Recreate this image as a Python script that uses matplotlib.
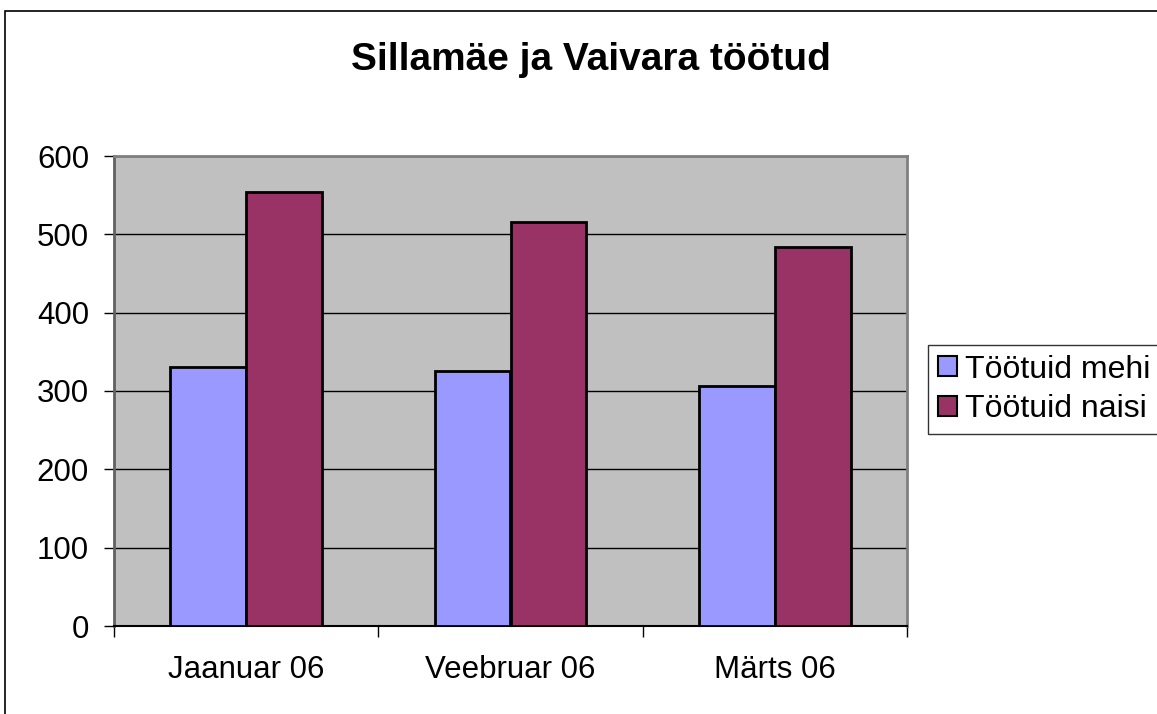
import matplotlib
matplotlib.use("Agg")
import matplotlib.pyplot as plt
from matplotlib.patches import Rectangle, Patch
import numpy as np

title = "Sillamäe ja Vaivara töötud"
categories = ["Jaanuar 06", "Veebruar 06", "Märts 06"]
series_names = ["Töötuid mehi", "Töötuid naisi"]
mehi = [331, 325, 306]
naisi = [554, 516, 484]
colors = ["#9999FF", "#993366"]
yticks = [0, 100, 200, 300, 400, 500, 600]

plt.rcParams['font.family'] = ['Liberation Sans', 'DejaVu Sans']

W, H = 1157, 714
fig = plt.figure(figsize=(W / 100, H / 100), dpi=100)
fig.patch.set_facecolor("white")
ax = fig.add_axes([114 / W, 1 - 626 / H, (907 - 114) / W, (626 - 156) / H])
ax.set_facecolor("#C0C0C0")

x = np.arange(len(categories))
bw = 0.2875
ax.bar(x - bw / 2, mehi, bw, color=colors[0], edgecolor="black", linewidth=2, zorder=3)
ax.bar(x + bw / 2, naisi, bw, color=colors[1], edgecolor="black", linewidth=2, zorder=3)

ax.set_xlim(-0.5, len(categories) - 0.5)
ax.set_ylim(0, 600)
ax.set_yticks(yticks)
ax.set_yticklabels([str(v) for v in yticks], fontsize=22.5)
ax.yaxis.grid(True, color="black", linewidth=1, zorder=1)
ax.set_axisbelow(True)

ax.set_xticks(x)
ax.set_xticklabels(categories, fontsize=22.5)
ax.set_xticks(np.arange(-0.5, len(categories), 1.0), minor=True)
ax.tick_params(axis="x", which="major", length=0, pad=21)
ax.tick_params(axis="x", which="minor", length=8, width=1, color="black")
ax.tick_params(axis="y", length=7, width=1, color="black", pad=11)

for s in ["top", "right"]:
    ax.spines[s].set_color("#808080")
    ax.spines[s].set_linewidth(2)
ax.spines["left"].set_color("#606060")
ax.spines["left"].set_linewidth(2)
ax.spines["bottom"].set_color("black")
ax.spines["bottom"].set_linewidth(1.5)

fig.text(591 / W, 1 - 60 / H, title, ha="center", va="center",
         fontsize=28, fontweight="bold")

handles = [Patch(facecolor=c, edgecolor="black", linewidth=1.5) for c in colors]
leg = fig.legend(handles, series_names, loc="upper left",
                 bbox_to_anchor=(928 / W, 1 - 345 / H), fontsize=23,
                 frameon=True, fancybox=False, handlelength=0.6,
                 handleheight=0.6, handletextpad=0.25, borderpad=0.3,
                 labelspacing=0.3, borderaxespad=0)
leg.get_frame().set_edgecolor("black")
leg.get_frame().set_linewidth(1)

fig.add_artist(Rectangle((5 / W, -0.1), 1.2, 1 - 11 / H + 0.1,
                         transform=fig.transFigure, fill=False,
                         edgecolor="black", linewidth=1.2))

fig.savefig("out.png", dpi=100)
